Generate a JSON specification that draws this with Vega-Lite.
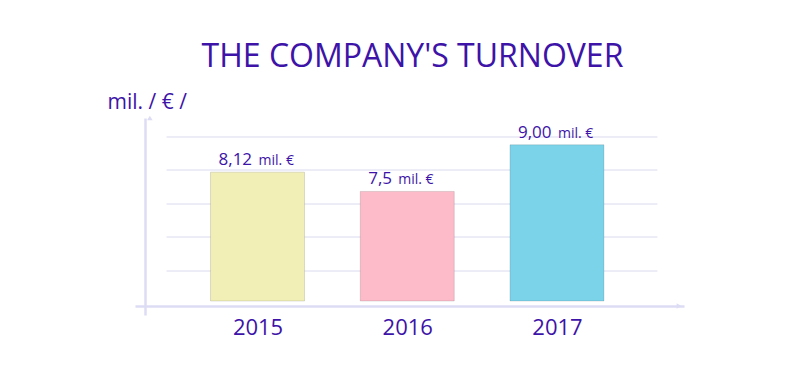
{
  "$schema": "https://vega.github.io/schema/vega-lite/v6.json",
  "width": 549,
  "height": 197,
  "autosize": {"type": "none"},
  "padding": {"left": 135, "top": 118, "right": 126, "bottom": 56},
  "background": "#ffffff",
  "config": {"view": {"stroke": null}, "font": "Open Sans"},
  "title": {"text": "THE COMPANY'S TURNOVER", "font": "Open Sans", "fontSize": 32, "fontWeight": "normal", "color": "#3D13A8", "anchor": "middle", "offset": 17, "dx": 3},
  "data": {"values": [
    {"year": 2015, "turnover": 8.12, "label": "8,12", "unit": "mil. €"},
    {"year": 2016, "turnover": 7.5, "label": "7,5", "unit": "mil. €"},
    {"year": 2017, "turnover": 9.0, "label": "9,00", "unit": "mil. €"}
  ]},
  "layer": [
    {
      "data": {"values": [{"grid": 4.939}, {"grid": 6.033}, {"grid": 7.095}, {"grid": 8.189}, {"grid": 9.251}]},
      "mark": {"type": "rule", "color": "#dadaf0", "strokeWidth": 1},
      "encoding": {
        "x": {"datum": 2014.392, "type": "quantitative"},
        "x2": {"datum": 2017.671},
        "y": {"field": "grid", "type": "quantitative"}
      }
    },
    {
      "mark": {"type": "bar", "width": 94, "stroke": "#000000", "strokeOpacity": 0.12, "strokeWidth": 1},
      "encoding": {
        "x": {"field": "year", "type": "quantitative",
              "scale": {"domain": [2014.215, 2017.815], "nice": false, "zero": false},
              "axis": {"values": [2015, 2016, 2017], "format": "d", "title": null, "grid": false, "ticks": false, "tickSize": 0,
                       "domainColor": "#dcdcf4", "domainWidth": 2.5, "offset": -9,
                       "labelFontSize": 22, "labelColor": "#3D13A8", "labelFont": "Open Sans", "labelBaseline": "alphabetic", "labelPadding": 28}},
        "y": {"field": "turnover", "type": "quantitative",
              "scale": {"domain": [3.524, 9.862], "nice": false, "zero": false},
              "axis": {"title": "mil. / € /", "labels": false, "ticks": false, "grid": false,
                       "domainColor": "#dcdcf4", "domainWidth": 2.5, "offset": -10,
                       "titleAngle": 0, "titleX": -38, "titleY": -10, "titleAlign": "left", "titleBaseline": "alphabetic",
                       "titleFont": "Open Sans", "titleFontSize": 21, "titleFontWeight": "normal", "titleColor": "#3D13A8"}},
        "y2": {"datum": 3.974},
        "color": {"field": "year", "type": "nominal",
                  "scale": {"domain": [2015, 2016, 2017], "range": ["#f1efb6", "#fdbbc9", "#7bd3ea"]}, "legend": null}
      }
    },
    {
      "mark": {"type": "text", "align": "left", "baseline": "alphabetic", "dx": -39, "dy": -7, "fontSize": 17, "color": "#3D13A8"},
      "encoding": {
        "x": {"field": "year", "type": "quantitative"},
        "y": {"field": "turnover", "type": "quantitative"},
        "text": {"field": "label"}
      }
    },
    {
      "transform": [{"filter": "length(datum.label) == 4"}],
      "mark": {"type": "text", "align": "left", "baseline": "alphabetic", "dx": 1, "dy": -7, "fontSize": 14, "color": "#3D13A8"},
      "encoding": {
        "x": {"field": "year", "type": "quantitative"},
        "y": {"field": "turnover", "type": "quantitative"},
        "text": {"field": "unit"}
      }
    },
    {
      "transform": [{"filter": "length(datum.label) == 3"}],
      "mark": {"type": "text", "align": "left", "baseline": "alphabetic", "dx": -9, "dy": -7, "fontSize": 14, "color": "#3D13A8"},
      "encoding": {
        "x": {"field": "year", "type": "quantitative"},
        "y": {"field": "turnover", "type": "quantitative"},
        "text": {"field": "unit"}
      }
    },
    {
      "data": {"values": [{"arrow": "x"}]},
      "mark": {"type": "point", "shape": "triangle-right", "filled": true, "size": 30, "color": "#dcdcf4", "opacity": 1},
      "encoding": {
        "x": {"datum": 2017.815, "type": "quantitative"},
        "y": {"datum": 3.813, "type": "quantitative"}
      }
    },
    {
      "data": {"values": [{"arrow": "y"}]},
      "mark": {"type": "point", "shape": "triangle-up", "filled": true, "size": 30, "color": "#dcdcf4", "opacity": 1},
      "encoding": {
        "x": {"datum": 2014.2806, "type": "quantitative"},
        "y": {"datum": 9.862, "type": "quantitative"}
      }
    }
  ]
}
